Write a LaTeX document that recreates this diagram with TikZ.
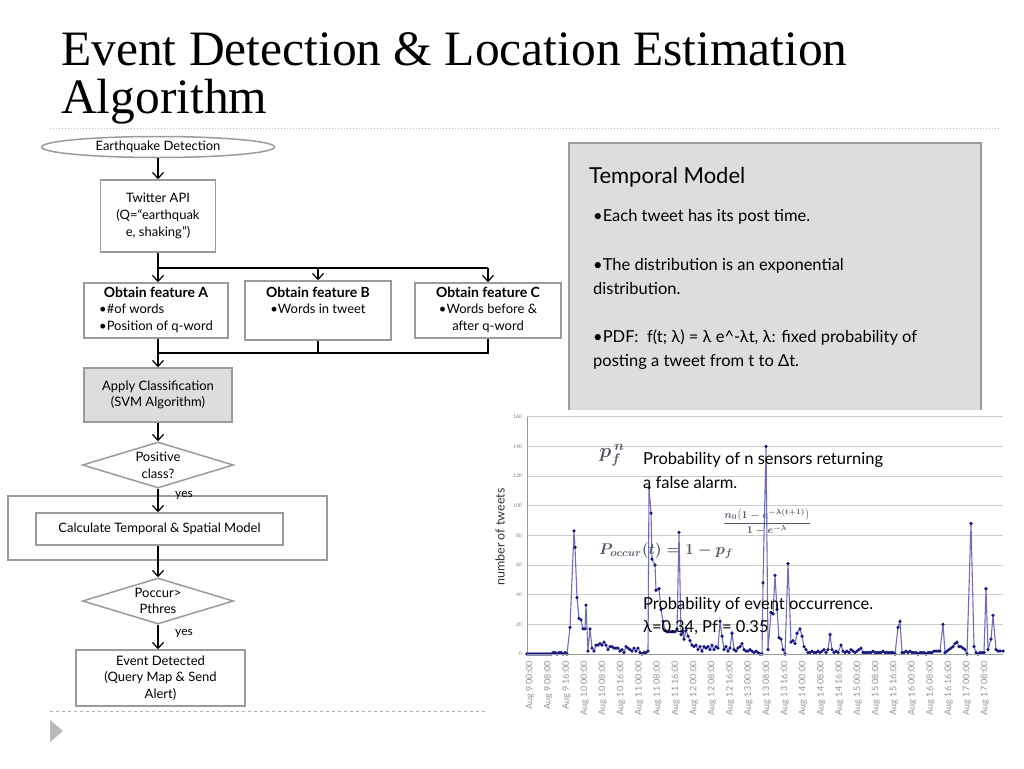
\documentclass[tikz,border=0pt]{standalone}
\usepackage{fix-cm}
\usepackage{fontspec}
\setmainfont{Lato}
\newfontfamily\titlefont{Liberation Serif}
\usetikzlibrary{shapes.geometric,arrows.meta}

\definecolor{boxline}{RGB}{155,155,155}
\definecolor{boxfill}{RGB}{221,221,221}
\definecolor{plotline}{RGB}{110,110,185}
\definecolor{plotmark}{RGB}{25,25,125}
\definecolor{gridgray}{RGB}{205,205,205}
\definecolor{mathgray}{RGB}{85,88,105}

\tikzset{
  box/.style={draw=boxline, line width=1.5pt, fill=white, align=center, inner sep=2pt},
  decision/.style={diamond, aspect=3.3, draw=boxline, line width=1.5pt, fill=white, align=center, inner sep=0pt},
  arr/.style={line width=1.2pt, -{Straight Barb[length=6pt,width=11pt]}},
  link/.style={line width=1.2pt},
  txt/.style={inner sep=0pt, anchor=base west},
  bodytext/.style={font=\fontsize{16.5}{24}\selectfont},
  formula/.style={text=mathgray, inner sep=0pt},
}
\newcommand{\boxhead}[1]{{\fontsize{14}{16.7}\selectfont\bfseries #1}}

\begin{document}
\begin{tikzpicture}[x=1pt, y=-1pt, every node/.style={font=\fontsize{13}{16.7}\selectfont}]
\useasboundingbox (0,0) rectangle (1024,768);
\fill[white] (0,0) rectangle (1024,768);

\node[txt, font=\titlefont\fontsize{49.5}{49.5}\selectfont] (title1) at (61,66) {Event Detection \& Location Estimation};
\node[txt, font=\titlefont\fontsize{49.5}{49.5}\selectfont] (title2) at (61,113) {Algorithm};
\draw[gray!50, line width=1pt, dotted] (50,128) -- (1000,128);
\draw[gray!60, line width=0.8pt, dashed] (50,711) -- (1000,711);
\fill[gray!55] (50,720) -- (63,731) -- (50,742) -- cycle;

\node[ellipse, draw=boxline, line width=1.5pt, inner sep=0pt, minimum width=233pt, minimum height=21pt] (start) at (158,147) {Earthquake Detection};
\node[box, minimum width=115pt, minimum height=72pt] (twitter) at (158,216) {Twitter API\\(Q=“earthquak\\e, shaking”)};
\node[box, minimum width=144pt, minimum height=55pt] (featA) at (156,310.5) {\begin{tabular}{@{}l@{}}\multicolumn{1}{@{}c@{}}{\boxhead{Obtain feature A}}\\•\#of words\\•Position of q-word\end{tabular}};
\node[box, minimum width=146pt, minimum height=59pt] (featB) at (318,310.5) {\begin{tabular}{@{}c@{}}\boxhead{Obtain feature B}\\•Words in tweet\\\strut\end{tabular}};
\node[box, minimum width=146pt, minimum height=55pt] (featC) at (488,310.5) {\begin{tabular}{@{}c@{}}\boxhead{Obtain feature C}\\•Words before \&\\after q-word\end{tabular}};
\node[box, fill=boxfill, minimum width=148pt, minimum height=54pt] (classify) at (158,395) {Apply Classification\\(SVM Algorithm)};
\node[decision, minimum width=151pt, minimum height=46pt] (dec1) at (158,465) {Positive\\class?};
\node[draw=boxline, line width=2pt, minimum width=319pt, minimum height=64pt] (stage) at (167.5,528) {};
\node[box, minimum width=247pt, minimum height=32pt] (calc) at (159.5,529) {Calculate Temporal \& Spatial Model};
\node[decision, minimum width=151pt, minimum height=46pt] (dec2) at (158,601) {Poccur>\\Pthres};
\node[box, minimum width=169pt, minimum height=56pt] (event) at (160.5,678) {Event Detected\\(Query Map \& Send\\Alert)};
\node[font=\fontsize{12}{13}\selectfont] (yes1) at (184,495) {yes};
\node[font=\fontsize{12}{13}\selectfont] (yes2) at (184,633) {yes};

\coordinate (split) at (158,268);
\coordinate (merge) at (158,353);
\draw[arr] (start.south) -- (twitter.north);
\draw[link] (twitter.south) -- (split) -- (split -| featC.north);
\draw[arr] (split) -- (split |- featA.north);
\draw[arr] (split -| featB.north) -- (featB.north);
\draw[arr] (split -| featC.north) -- (featC.north);
\draw[link] (featB.south) -- (featB.south |- merge);
\draw[link] (featC.south) -- (featC.south |- merge) -- (merge);
\draw[arr] (featA.south -| merge) -- (classify.north);
\draw[arr] (classify.south) -- (dec1.north);
\draw[arr] (dec1.south) -- (calc.north -| dec1.south);
\draw[arr] (calc.south -| dec2.north) -- (dec2.north);
\draw[arr] (dec2.south) -- (event.north -| dec2.south);

\node[draw=boxline, line width=1.5pt, fill=boxfill, anchor=north west, minimum width=412pt, minimum height=290pt] (model) at (568,142) {};
\node[txt, font=\fontsize{22}{26}\selectfont] (modeltitle) at (589,183) {Temporal Model};
\node[txt, bodytext] (m1) at (593,221) {•Each tweet has its post time.};
\node[txt, bodytext] (m2) at (593,270) {•The distribution is an exponential};
\node[txt, bodytext] (m3) at (593,294) {distribution.};
\node[txt, bodytext] (m4) at (593,342) {•PDF:\ \ f(t; λ) = λ e\textasciicircum-λt, λ: fixed probability of};
\node[txt, bodytext] (m5) at (593,366) {posting a tweet from t to Δt.};

\fill[white] (485,410) rectangle (1005,740);
\begin{scope}[shift={(0,654)}, y=1.483pt]
\foreach \v in {0,20,...,160} {
  \draw[gridgray, line width=0.6pt] (527,\v) -- (1003,\v);
  \node[anchor=east, inner sep=0pt, text=gray, font=\fontsize{5}{5}\selectfont] (yt\v) at (522,\v) {\v};
}
\draw[gray!80, line width=0.6pt] (527,0) -- (527,160);
\draw[plotline, line width=1.1pt] plot[mark=*, mark size=1pt, mark options={plotmark, fill=plotmark}] coordinates {
(527,0)(529,0)(531,0)(533,0)(535,0)(537,0)(539,0)(541,0)(543,0)(545,0)(547,0)(549,0)(551,0)(553,1)(555,1)(557,0)(559,1)(561,1)(563,0)(565,1)(567,0)
(570,18)(574,83)(575,72)(577,38)(579,24)(581,23)(583,17)(585,17)(586,33)(588,2)(590,17)(592,4)(594,2)(596,6)(598,6)(600,7)(602,6)(604,8)(606,6)(608,3)
(610,5)(612,5)(614,4)(616,4)(618,4)(620,2)(622,3)(624,1)(626,5)(628,4)(630,3)(632,2)(634,4)(636,2)(638,4)(640,1)(642,0)(644,1)(646,1)(648,2)
(649,112)(651,95)(652,64)(655,60)(656,43)(659,44)(661,30)(663,22)(665,16)(667,15)(669,15)(671,15)(673,15)(675,15)(677,17)(679,82)(681,13)(683,15)(684,10)(686,16)
(688,12)(690,9)(692,6)(694,5)(696,6)(698,3)(700,5)(702,2)(704,5)(706,4)(708,5)(710,3)(712,6)(714,3)(716,5)(718,4)(720,22)(722,12)(724,3)(726,5)(728,2)(730,4)
(732,14)(734,3)(736,2)(738,4)(740,5)(742,7)(744,3)(746,2)(748,2)(750,3)(752,2)(754,1)(756,2)(758,1)(760,0)(762,0)(763,48)(766,140)(768,3)(771,28)(773,27)
(775,53)(777,30)(779,11)(781,10)(783,3)(785,0)(788,61)(791,8)(793,9)(795,7)(797,14)(800,17)(802,12)(804,5)(806,3)(808,1)(810,1)(812,2)(814,1)(816,1)(818,2)
(820,1)(822,2)(824,3)(826,1)(828,3)(830,13)(832,3)(834,1)(836,2)(838,1)(841,6)(843,2)(845,1)(847,2)(849,1)(851,3)(853,2)(855,1)(857,2)(859,3)(861,4)(863,1)
(865,1)(867,1)(869,1)(871,1)(873,2)(875,1)(877,1)(879,1)(881,1)(883,2)(885,1)(887,1)(889,1)(891,1)(893,1)(895,0)(898,18)(900,22)(902,1)(904,1)(906,2)(908,1)
(910,2)(912,1)(914,1)(916,1)(918,0)(920,1)(922,1)(924,1)(926,0)(928,1)(930,1)(932,1)(934,2)(936,2)(938,2)(940,2)(943,20)(945,1)(947,2)(949,3)(951,4)(953,5)
(955,7)(957,8)(959,5)(961,5)(963,4)(965,3)(967,0)(971,88)(974,5)(976,1)(978,0)(980,1)(982,1)(984,1)(986,44)(988,3)(991,10)(993,26)(996,3)(998,2)(1000,2)(1003,2)
};
\end{scope}
\draw[gray!80, line width=0.6pt] (527,654) -- (1003,654);
\foreach \lab [count=\i from 0] in {Aug 9 00:00,Aug 9 08:00,Aug 9 16:00,Aug 10 00:00,Aug 10 08:00,Aug 10 16:00,Aug 11 00:00,Aug 11 08:00,Aug 11 16:00,Aug 12 00:00,Aug 12 08:00,Aug 12 16:00,Aug 13 00:00,Aug 13 08:00,Aug 13 16:00,Aug 14 00:00,Aug 14 08:00,Aug 14 16:00,Aug 15 00:00,Aug 15 08:00,Aug 15 16:00,Aug 16 00:00,Aug 16 08:00,Aug 16 16:00,Aug 17 00:00,Aug 17 08:00}
  \node[rotate=90, anchor=east, inner sep=0pt, text=gray!85, font=\fontsize{9}{9}\selectfont] (xt\i) at ({530+18.2*\i},661) {\lab};
\node[rotate=90, text=gray!40!black, font=\fontsize{12.5}{13}\selectfont] (ylab) at (500,537) {number of tweets};

\node[formula, font=\fontsize{20}{22}\selectfont\boldmath] (pfn) at (612,455) {$p_f^{\,n}$};
\node[formula, font=\fontsize{10.5}{12}\selectfont\boldmath] (expo) at (767,522) {$\displaystyle\frac{n_0\bigl(1-e^{-\lambda(t+1)}\bigr)}{1-e^{-\lambda}}$};
\node[formula, font=\fontsize{15.5}{18}\selectfont\boldmath] (poccur) at (666,551) {$P_{occur}(t) = 1 - p_f$};
\node[txt, bodytext] (fa1) at (643,464) {Probability of n sensors returning};
\node[txt, bodytext] (fa2) at (643,488) {a false alarm.};
\node[txt, bodytext] (ev1) at (643,609) {Probability of event occurrence.};
\node[txt, bodytext] (ev2) at (643,632) {λ=0.34, Pf = 0.35};
\end{tikzpicture}
\end{document}
